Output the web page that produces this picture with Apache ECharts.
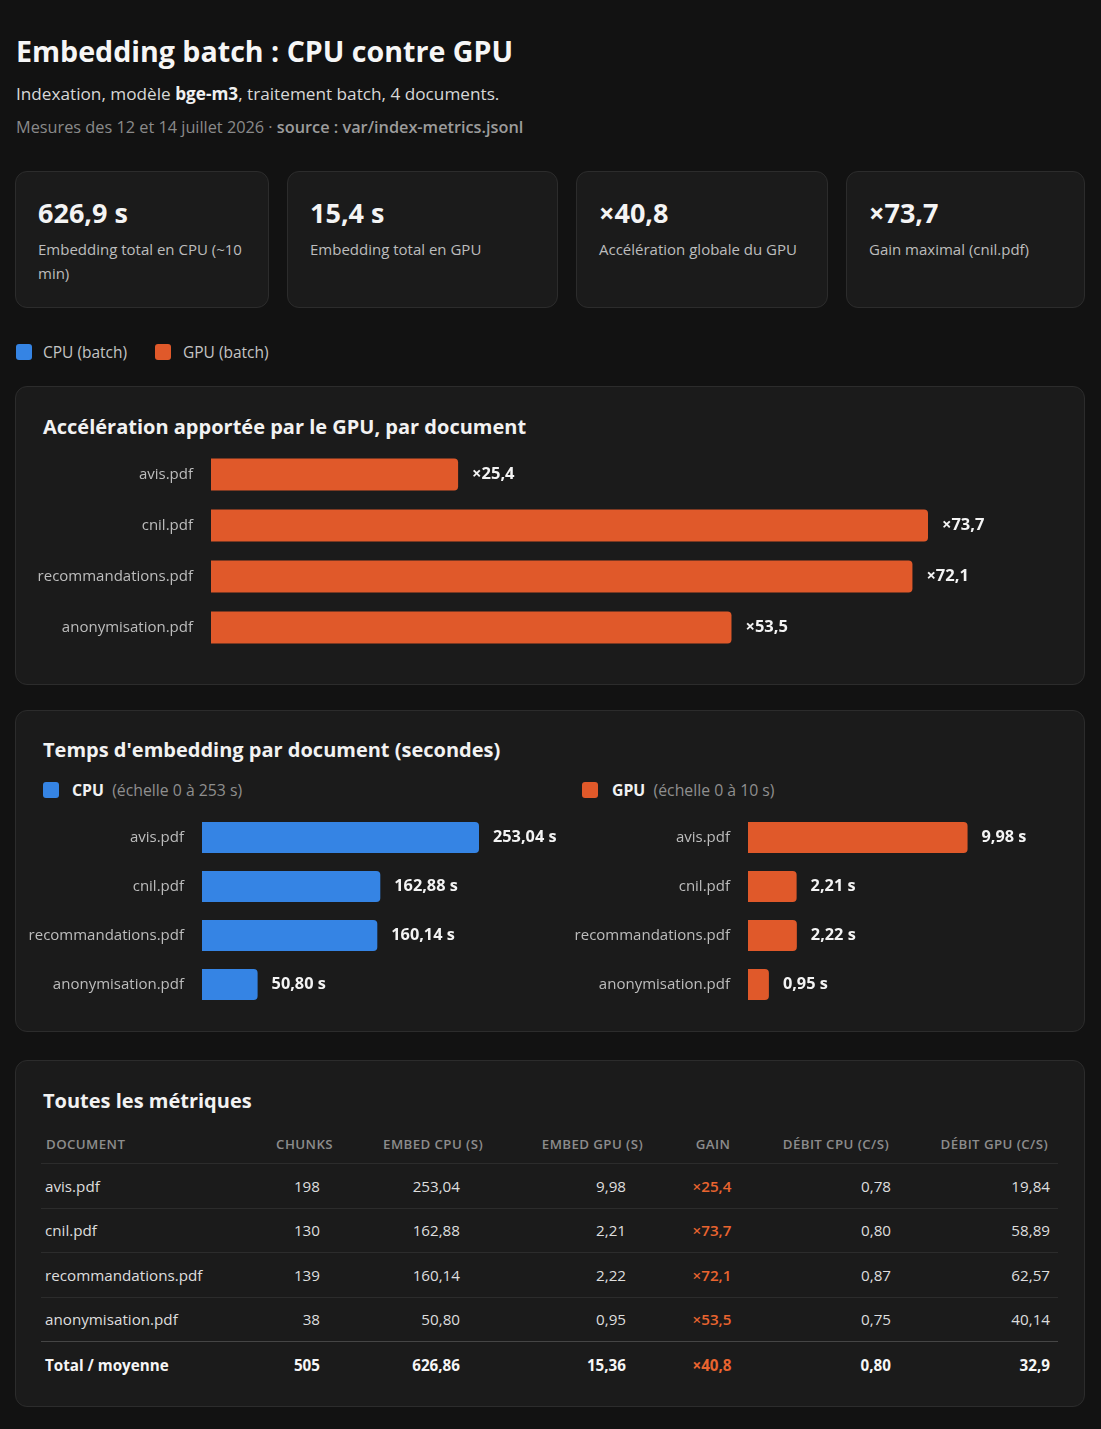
<!DOCTYPE html>
<html lang="fr">
<head>
<meta charset="utf-8">
<script src="https://cdn.jsdelivr.net/npm/echarts@6/dist/echarts.min.js"></script>
<style>
  html, body { margin:0; padding:0; background:#121212; }
  body { width:1101px; height:1429px; position:relative; overflow:hidden; font-family:"Open Sans","Noto Sans",sans-serif; color:#e6e6e6; }
  .abs { position:absolute; white-space:nowrap; }
  .card { position:absolute; background:#1b1b1b; border:1px solid #2c2c2c; border-radius:12px; box-sizing:border-box; }
  .kv { position:absolute; left:22px; top:21px; font-size:27px; font-weight:700; color:#f4f4f4; line-height:40px; }
  .kl { position:absolute; left:22px; top:65px; right:14px; font-size:15px; color:#bdbdbd; line-height:24px; white-space:normal; }
  .ctitle { position:absolute; left:43px; font-size:20px; font-weight:700; color:#f2f2f2; line-height:28px; white-space:nowrap; }
  .sw { position:absolute; width:16px; height:16px; border-radius:3px; }
  table { border-collapse:collapse; table-layout:fixed; position:absolute; left:41px; top:1124px; width:1017px; font-size:15.2px; }
  th { font-size:13.3px; font-weight:600; color:#8c8c8c; letter-spacing:0.4px; text-transform:uppercase; height:39px; padding:0; border-bottom:1px solid #2c2c2c; }
  td { height:43.5px; padding:0; border-bottom:1px solid #2c2c2c; color:#dedede; }
  tr.last td { border-bottom:1px solid #454545; }
  tr.total td { border-bottom:none; font-weight:700; color:#f6f6f6; height:46px; }
  .gain { color:#e9642f; font-weight:600; }
  tr.total td.gain { color:#e9642f; }
</style>
</head>
<body>
<div id="title" class="abs" style="left:16px;top:30px;font-size:28.6px;font-weight:700;color:#f6f6f6;line-height:42px;"></div>
<div id="sub" class="abs" style="left:16px;top:82px;font-size:17.2px;color:#d8d8d8;line-height:24px;"></div>
<div id="meta" class="abs" style="left:16px;top:115px;font-size:16.3px;color:#8a8a8a;line-height:24px;"></div>
<div id="kpis"></div>
<div id="legend"></div>

<div class="card" style="left:15px;top:386px;width:1070px;height:299px;"></div>
<div id="accTitle" class="ctitle" style="top:413px;"></div>
<div id="chartAcc" style="position:absolute;left:15px;top:440px;width:1070px;height:224px;"></div>

<div class="card" style="left:15px;top:710px;width:1070px;height:322px;"></div>
<div id="timeTitle" class="ctitle" style="top:736px;"></div>
<div id="subLegends"></div>
<div id="chartTime" style="position:absolute;left:15px;top:805px;width:1070px;height:210px;"></div>

<div class="card" style="left:15px;top:1060px;width:1070px;height:347px;"></div>
<div id="tabTitle" class="ctitle" style="top:1087px;"></div>
<table id="tbl"></table>

<script>
// ---------- DATA ----------
const docs = ['avis.pdf', 'cnil.pdf', 'recommandations.pdf', 'anonymisation.pdf'];
const chunks = [198, 130, 139, 38];
const cpuTimes = [253.04, 162.88, 160.14, 50.80];
const gpuTimes = [9.98, 2.21, 2.22, 0.95];
const gains = [25.4, 73.7, 72.1, 53.5];
const debitCpu = [0.78, 0.80, 0.87, 0.75];
const debitGpu = [19.84, 58.89, 62.57, 40.14];
const totalRow = ['Total / moyenne', 505, 626.86, 15.36, 40.8, 0.80, 32.9];
const tableHeaders = ['Document', 'Chunks', 'Embed CPU (s)', 'Embed GPU (s)', 'Gain', 'Débit CPU (c/s)', 'Débit GPU (c/s)'];
const kpiValues = ['626,9 s', '15,4 s', '×40,8', '×73,7'];
const kpiLabels = ['Embedding total en CPU (~10 min)', 'Embedding total en GPU', 'Accélération globale du GPU', 'Gain maximal (cnil.pdf)'];
const seriesNames = ['CPU (batch)', 'GPU (batch)'];
const scaleNotes = ['(échelle 0 à 253 s)', '(échelle 0 à 10 s)'];

const CPU_COLOR = '#3584e4';
const GPU_COLOR = '#e0592a';
const FONT = '"Open Sans","Noto Sans",sans-serif';
const fr = (v, d) => v.toFixed(d).replace('.', ',');

// ---------- HEADER ----------
document.getElementById('title').textContent = 'Embedding batch : CPU contre GPU';
document.getElementById('sub').innerHTML = 'Indexation, modèle <b style="color:#f0f0f0">bge-m3</b>, traitement batch, 4 documents.';
document.getElementById('meta').innerHTML = 'Mesures des 12 et 14 juillet 2026 · <span style="color:#9c9c9c;font-weight:600">source : var/index-metrics.jsonl</span>';

// ---------- KPI ----------
const kpiBoxes = [[15, 254], [287, 271], [576, 252], [846, 239]];
document.getElementById('kpis').innerHTML = kpiBoxes.map((b, i) =>
  `<div class="card" style="left:${b[0]}px;top:171px;width:${b[1]}px;height:137px;">
     <div class="kv">${kpiValues[i]}</div><div class="kl">${kpiLabels[i]}</div></div>`).join('');

// ---------- LEGEND ----------
document.getElementById('legend').innerHTML =
  `<div class="sw" style="left:16px;top:344px;background:${CPU_COLOR}"></div>
   <div class="abs" style="left:43px;top:341px;font-size:15.5px;color:#c4c4c4;line-height:22px;">${seriesNames[0]}</div>
   <div class="sw" style="left:155px;top:344px;background:${GPU_COLOR}"></div>
   <div class="abs" style="left:183px;top:341px;font-size:15.5px;color:#c4c4c4;line-height:22px;">${seriesNames[1]}</div>`;

document.getElementById('accTitle').textContent = 'Accélération apportée par le GPU, par document';
document.getElementById('timeTitle').textContent = "Temps d'embedding par document (secondes)";
document.getElementById('tabTitle').textContent = 'Toutes les métriques';

document.getElementById('subLegends').innerHTML =
  `<div class="sw" style="left:43px;top:782px;background:${CPU_COLOR}"></div>
   <div class="abs" style="left:72px;top:779px;font-size:15.8px;line-height:22px;"><b style="color:#f2f2f2">CPU</b>&nbsp;&nbsp;<span style="color:#8f8f8f">${scaleNotes[0]}</span></div>
   <div class="sw" style="left:582px;top:782px;background:${GPU_COLOR}"></div>
   <div class="abs" style="left:612px;top:779px;font-size:15.8px;line-height:22px;"><b style="color:#f2f2f2">GPU</b>&nbsp;&nbsp;<span style="color:#8f8f8f">${scaleNotes[1]}</span></div>`;

// ---------- CHART HELPERS ----------
const catAxis = (gridIndex) => ({
  type: 'category', data: docs, inverse: true, gridIndex,
  axisLine: { show: false }, axisTick: { show: false }, splitLine: { show: false },
  axisLabel: { color: '#bdbdbd', fontSize: 15, margin: 18, fontFamily: FONT }
});
const valLabel = (fmt, size) => ({
  show: true, position: 'right', distance: 14, color: '#f4f4f4',
  fontWeight: 'bold', fontSize: size, fontFamily: FONT, formatter: fmt
});

// ---------- CHART: ACCELERATION ----------
const accChart = echarts.init(document.getElementById('chartAcc'), null, { renderer: 'canvas' });
accChart.setOption({
  animation: false,
  textStyle: { fontFamily: FONT },
  grid: { left: 196, top: 9, width: 717, height: 204 },
  xAxis: { type: 'value', min: 0, max: Math.max(...gains), show: false },
  yAxis: catAxis(0),
  series: [{
    type: 'bar', data: gains, barWidth: 32,
    itemStyle: { color: GPU_COLOR, borderRadius: [0, 4, 4, 0] },
    label: valLabel(p => '×' + fr(p.value, 1), 16.5)
  }]
});

// ---------- CHART: TIMES ----------
const timeChart = echarts.init(document.getElementById('chartTime'), null, { renderer: 'canvas' });
timeChart.setOption({
  animation: false,
  textStyle: { fontFamily: FONT },
  grid: [
    { left: 187, top: 8, width: 277, height: 196 },
    { left: 733, top: 8, width: 220, height: 196 }
  ],
  xAxis: [
    { type: 'value', gridIndex: 0, min: 0, max: Math.max(...cpuTimes), show: false },
    { type: 'value', gridIndex: 1, min: 0, max: 10, show: false }
  ],
  yAxis: [catAxis(0), catAxis(1)],
  series: [
    { type: 'bar', xAxisIndex: 0, yAxisIndex: 0, data: cpuTimes, barWidth: 31,
      itemStyle: { color: CPU_COLOR, borderRadius: [0, 4, 4, 0] },
      label: valLabel(p => fr(p.value, 2) + ' s', 16.3) },
    { type: 'bar', xAxisIndex: 1, yAxisIndex: 1, data: gpuTimes, barWidth: 31,
      itemStyle: { color: GPU_COLOR, borderRadius: [0, 4, 4, 0] },
      label: valLabel(p => fr(p.value, 2) + ' s', 16.3) }
  ]
});

// ---------- TABLE ----------
const colW = [209, 90, 150, 160, 110, 140, 158];
const thStyle = ['text-align:left;padding-left:5px', 'text-align:right;padding-right:7px', 'text-align:right;padding-right:7px',
  'text-align:right;padding-right:7px', 'text-align:center;padding-left:16px', 'text-align:right;padding-right:11px', 'text-align:right;padding-right:10px'];
const tdStyle = ['text-align:left;padding-left:4px', 'text-align:right;padding-right:20px', 'text-align:right;padding-right:30px',
  'text-align:right;padding-right:24px', 'text-align:center;padding-left:14px', 'text-align:right;padding-right:9px', 'text-align:right;padding-right:8px'];
let html = '<colgroup>' + colW.map(w => `<col style="width:${w}px">`).join('') + '</colgroup>';
html += '<tr>' + tableHeaders.map((h, i) => `<th style="${thStyle[i]}">${h}</th>`).join('') + '</tr>';
docs.forEach((d, r) => {
  const cells = [d, String(chunks[r]), fr(cpuTimes[r], 2), fr(gpuTimes[r], 2), '×' + fr(gains[r], 1), fr(debitCpu[r], 2), fr(debitGpu[r], 2)];
  html += `<tr class="${r === docs.length - 1 ? 'last' : ''}">` + cells.map((c, i) =>
    `<td style="${tdStyle[i]}" class="${i === 4 ? 'gain' : ''}">${c}</td>`).join('') + '</tr>';
});
const totCells = [totalRow[0], String(totalRow[1]), fr(totalRow[2], 2), fr(totalRow[3], 2), '×' + fr(totalRow[4], 1), fr(totalRow[5], 2), fr(totalRow[6], 1)];
html += '<tr class="total">' + totCells.map((c, i) => `<td style="${tdStyle[i]}" class="${i === 4 ? 'gain' : ''}">${c}</td>`).join('') + '</tr>';
document.getElementById('tbl').innerHTML = html;
</script>
</body>
</html>
